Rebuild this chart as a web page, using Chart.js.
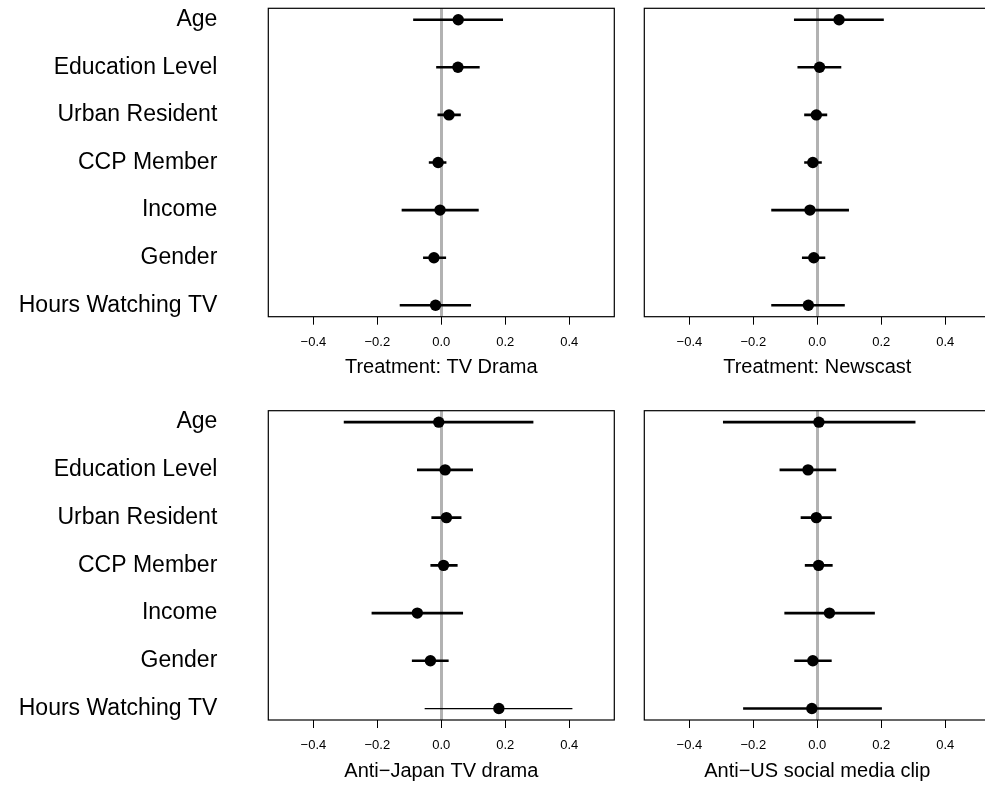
<!DOCTYPE html>
<html>
<head>
<meta charset="utf-8">
<script src="https://cdn.jsdelivr.net/npm/chart.js@4.4.0/dist/chart.umd.min.js"></script>
<style>
html, body { margin: 0; padding: 0; overflow: hidden; background: #fff; width: 985px; height: 786px; }
canvas { position: absolute; }
</style>
</head>
<body>
<canvas id="drama" width="630" height="402" style="left:0px;top:0px"></canvas>
<canvas id="news" width="376" height="402" style="left:630px;top:0px"></canvas>
<canvas id="japan" width="630" height="384" style="left:0px;top:402px"></canvas>
<canvas id="usclip" width="376" height="384" style="left:630px;top:402px"></canvas>
<script>
// covariate rows, top to bottom
const rows = ['Age', 'Education Level', 'Urban Resident', 'CCP Member', 'Income', 'Gender', 'Hours Watching TV'];
const xTicks = [-0.4, -0.2, 0, 0.2, 0.4];

// Treatment: TV Drama
const dramaEst = [0.053, 0.052, 0.024, -0.010, -0.004, -0.023, -0.018];
const dramaLo  = [-0.088, -0.016, -0.012, -0.039, -0.124, -0.057, -0.130];
const dramaHi  = [0.193, 0.120, 0.061, 0.016, 0.117, 0.015, 0.093];

// Treatment: Newscast
const newsEst = [0.068, 0.007, -0.003, -0.014, -0.023, -0.011, -0.028];
const newsLo  = [-0.073, -0.062, -0.041, -0.041, -0.144, -0.048, -0.144];
const newsHi  = [0.208, 0.075, 0.031, 0.014, 0.099, 0.025, 0.086];

// Anti-Japan TV drama
const japanEst = [-0.008, 0.012, 0.016, 0.007, -0.075, -0.034, 0.180];
const japanLo  = [-0.305, -0.076, -0.031, -0.034, -0.218, -0.092, -0.052];
const japanHi  = [0.288, 0.099, 0.063, 0.051, 0.068, 0.023, 0.410];

// Anti-US social media clip
const usEst = [0.005, -0.029, -0.003, 0.004, 0.038, -0.014, -0.017];
const usLo  = [-0.295, -0.118, -0.052, -0.039, -0.103, -0.072, -0.232];
const usHi  = [0.307, 0.059, 0.045, 0.048, 0.180, 0.045, 0.202];

Chart.defaults.font.family = '"Liberation Sans", Arial, Helvetica, sans-serif';
Chart.defaults.color = '#000';

// box round the plot region, like R's box()
const frame = {
  id: 'frame',
  afterDatasetsDraw(chart) {
    const a = chart.chartArea, c = chart.ctx;
    c.save();
    c.strokeStyle = '#000';
    c.lineWidth = 1.2;
    c.strokeRect(a.left, a.top, a.right - a.left, a.bottom - a.top);
    c.restore();
  }
};

function makePanel(canvasId, est, lo, hi, title, withLabels, axisWidth, padTop, padBottom, thinRow) {
  const ciData = [];
  lo.forEach((v, i) => {
    const y = rows.length - i;
    ciData.push({x: v, y: y}, {x: hi[i], y: y}, {x: NaN, y: NaN});
  });
  const ptData = est.map((v, i) => ({x: v, y: rows.length - i}));

  return new Chart(document.getElementById(canvasId), {
    type: 'scatter',
    data: {
      datasets: [
        {
          data: ciData,
          showLine: true,
          spanGaps: false,
          borderColor: '#000',
          borderWidth: 2.6,
          pointRadius: 0,
          segment: {
            borderWidth: c => Math.floor(c.p0DataIndex / 3) === thinRow ? 1.3 : 2.6
          }
        },
        {
          data: ptData,
          pointRadius: 5.7,
          backgroundColor: '#000',
          borderColor: '#000',
          borderWidth: 0
        }
      ]
    },
    options: {
      responsive: false,
      animation: false,
      layout: { padding: { top: padTop, right: 15.7, bottom: padBottom, left: 0 } },
      plugins: { legend: { display: false }, tooltip: { enabled: false } },
      scales: {
        x: {
          type: 'linear',
          min: -0.541,
          max: 0.541,
          afterBuildTicks: s => { s.ticks = xTicks.map(v => ({value: v})); },
          afterFit: s => { s.height = 63; s.paddingLeft = 0; s.paddingRight = 0; },
          border: { display: false },
          grid: {
            color: c => (c.tick && c.tick.value === 0) ? '#b2b2b2' : 'rgba(0,0,0,0)',
            lineWidth: 3,
            drawTicks: true,
            tickLength: 8,
            tickColor: '#000',
            tickWidth: 1
          },
          ticks: {
            color: '#000',
            padding: 10,
            autoSkip: false,
            maxRotation: 0,
            font: { size: 13 },
            callback: v => (v < 0 ? '\u2212' : '') + Math.abs(v).toFixed(1)
          },
          title: {
            display: true,
            text: title,
            color: '#000',
            font: { size: 20 },
            padding: { top: 0, bottom: 0 }
          }
        },
        y: {
          type: 'linear',
          min: 0.76,
          max: 7.24,
          afterBuildTicks: s => { s.ticks = rows.map((r, i) => ({value: rows.length - i})); },
          afterFit: s => { s.width = axisWidth; s.paddingTop = 0; s.paddingBottom = 0; },
          border: { display: false },
          grid: { display: false, drawTicks: false },
          ticks: {
            display: withLabels,
            color: '#000',
            padding: 51,
            font: { size: 23 },
            callback: v => rows[rows.length - v]
          }
        }
      }
    },
    plugins: [frame]
  });
}

makePanel('drama', dramaEst, dramaLo, dramaHi, 'Treatment: TV Drama', true, 268.3, 8.3, 22.3, -1);
makePanel('news', newsEst, newsLo, newsHi, 'Treatment: Newscast', false, 14.3, 8.3, 22.3, -1);
makePanel('japan', japanEst, japanLo, japanHi, 'Anti\u2212Japan TV drama', true, 268.3, 8.7, 3, 6);
makePanel('usclip', usEst, usLo, usHi, 'Anti\u2212US social media clip', false, 14.3, 8.7, 3, -1);
</script>
</body>
</html>
